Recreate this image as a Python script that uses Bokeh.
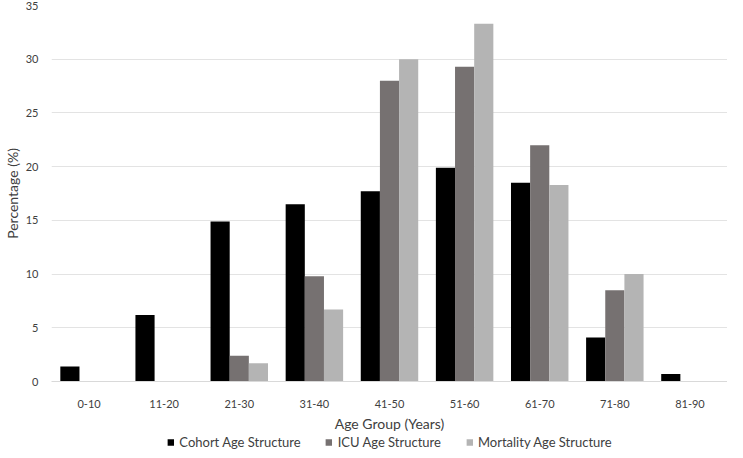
from bokeh.plotting import figure
from bokeh.layouts import column
from bokeh.models import ColumnDataSource, FactorRange, Legend, LegendItem, Range1d, SingleIntervalTicker
from bokeh.transform import dodge
from bokeh.embed import file_html
from bokeh.resources import INLINE

categories = ["0-10", "11-20", "21-30", "31-40", "41-50", "51-60", "61-70", "71-80", "81-90"]
cohort = [1.4, 6.2, 14.9, 16.5, 17.7, 19.9, 18.5, 4.1, 0.7]
icu = [0, 0, 2.4, 9.8, 28.0, 29.3, 22.0, 8.5, 0]
mortality = [0, 0, 1.7, 6.7, 30.0, 33.3, 18.3, 10.0, 0]
series_names = ["Cohort Age Structure", "ICU Age Structure", "Mortality Age Structure"]
series_keys = ["cohort", "icu", "mortality"]
colors = ["#000000", "#767171", "#B4B4B4"]

FONT = "Lato"
TXT = "#404040"

src = ColumnDataSource(dict(cat=categories, cohort=cohort, icu=icu, mortality=mortality))

p = figure(x_range=FactorRange(*categories, range_padding=0.0), y_range=Range1d(0, 35),
           width=727, height=434, output_backend="svg", toolbar_location=None,
           min_border_left=0, min_border_right=0, min_border_top=5, min_border_bottom=0)
p.outline_line_color = None
p.background_fill_color = "white"
p.border_fill_color = "white"

w = 0.255
offsets = [-w, 0, w]
for key, col, off in zip(series_keys, colors, offsets):
    p.vbar(x=dodge("cat", off, range=p.x_range), top=key, width=w, source=src,
           fill_color=col, line_color=None)

p.yaxis.ticker = SingleIntervalTicker(interval=5)
p.ygrid.grid_line_color = "#E3E3E3"
p.xgrid.grid_line_color = None

p.yaxis.axis_line_color = None
p.yaxis.major_tick_line_color = None
p.yaxis.minor_tick_line_color = None
p.yaxis.major_label_standoff = 7
p.yaxis.axis_label = "Percentage (%)"
p.yaxis.axis_label_standoff = 2
p.yaxis.axis_label_text_font_style = "normal"

p.xaxis.axis_line_color = "#D9D9D9"
p.xaxis.major_tick_line_color = None
p.xaxis.minor_tick_line_color = None
p.xaxis.major_label_standoff = 12
p.xaxis.axis_label = "Age Group (Years)"
p.xaxis.axis_label_standoff = 4
p.xaxis.axis_label_text_font_style = "normal"

for ax in (p.xaxis[0], p.yaxis[0]):
    ax.major_label_text_font = FONT
    ax.major_label_text_font_size = "11px"
    ax.major_label_text_color = TXT
    ax.axis_label_text_font = FONT
    ax.axis_label_text_font_size = "14px"
    ax.axis_label_text_color = TXT

# legend strip: same bars, kept outside its visible y range so only the swatches show
lg = figure(width=727, height=16, output_backend="svg", toolbar_location=None,
            x_axis_type=None, y_axis_type=None,
            x_range=FactorRange(*categories), y_range=Range1d(1000, 1001),
            min_border_left=0, min_border_right=0, min_border_top=0, min_border_bottom=0)
lg.outline_line_color = None
lg.xgrid.visible = False
lg.ygrid.visible = False
items = []
for name, key, col, off in zip(series_names, series_keys, colors, offsets):
    r = lg.vbar(x=dodge("cat", off, range=lg.x_range), top=key, width=w, source=src,
                fill_color=col, line_color=None)
    items.append(LegendItem(label=name, renderers=[r]))
legend = Legend(items=items, orientation="horizontal", location="center",
                label_text_font=FONT, label_text_font_size="13px", label_text_color=TXT,
                glyph_width=8, glyph_height=8, label_standoff=5, spacing=24,
                padding=0, margin=0, border_line_color=None, background_fill_alpha=0,
                label_height=14)
lg.add_layout(legend, "center")

layout = column(p, lg, spacing=0)
open("out.html", "w").write(file_html(layout, INLINE))
